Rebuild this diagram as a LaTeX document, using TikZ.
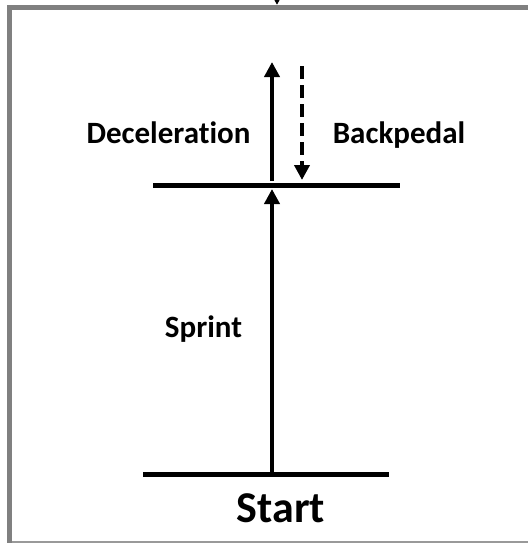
\documentclass[tikz,border=0pt]{standalone}
\usepackage{fontspec}
\setmainfont{Carlito}[Ligatures=NoCommon]
\usetikzlibrary{arrows.meta}
\begin{document}
\begin{tikzpicture}[x=1pt,y=-1pt,
    track/.style={line width=4.5pt},
    move/.style={line width=4pt,-{Triangle[width=15pt,length=15pt]}},
    word/.style={font=\bfseries\fontsize{31}{36}\selectfont,anchor=base,inner sep=0pt}]
    \useasboundingbox (0,0) rectangle (528,544);

    % Frame
    \fill[gray] (7,5) rectangle (528,10);
    \fill[gray] (7,5) rectangle (12,543);
    \fill[gray!80] (12,541) rectangle (528,543);

    % Arrow coming in from above
    \coordinate (from above) at (277,-15);
    \coordinate (frame top) at (277,5);
    \draw[move] (from above) -- (frame top);

    % Start line
    \coordinate (start l) at (143,474.5);
    \coordinate (start r) at (389,474.5);
    \draw[track] (start l) -- (start r);
    \node[word,font=\bfseries\fontsize{44}{50}\selectfont] (start) at (281,522) {Start};

    % Turn line
    \coordinate (turn l) at (153,185.5);
    \coordinate (turn r) at (400,185.5);
    \draw[track] (turn l) -- (turn r);

    % Sprint up to the turn line
    \coordinate (sprint a) at (272,472.5);
    \coordinate (sprint b) at (272,189);
    \draw[move] (sprint a) -- (sprint b);
    \node[word] (sprint) at (203.5,337) {Sprint};

    % Deceleration, going on
    \coordinate (decel a) at (272,181);
    \coordinate (decel b) at (272,62);
    \draw[move] (decel a) -- (decel b);
    \node[word] (decel) at (168.5,143) {Deceleration};

    % Backpedal, coming back
    \coordinate (back a) at (302,66);
    \coordinate (back b) at (302,180);
    \draw[move,dash pattern=on 13pt off 6pt] (back a) -- (back b);
    \node[word] (back) at (399,143) {Backpedal};
\end{tikzpicture}
\end{document}
